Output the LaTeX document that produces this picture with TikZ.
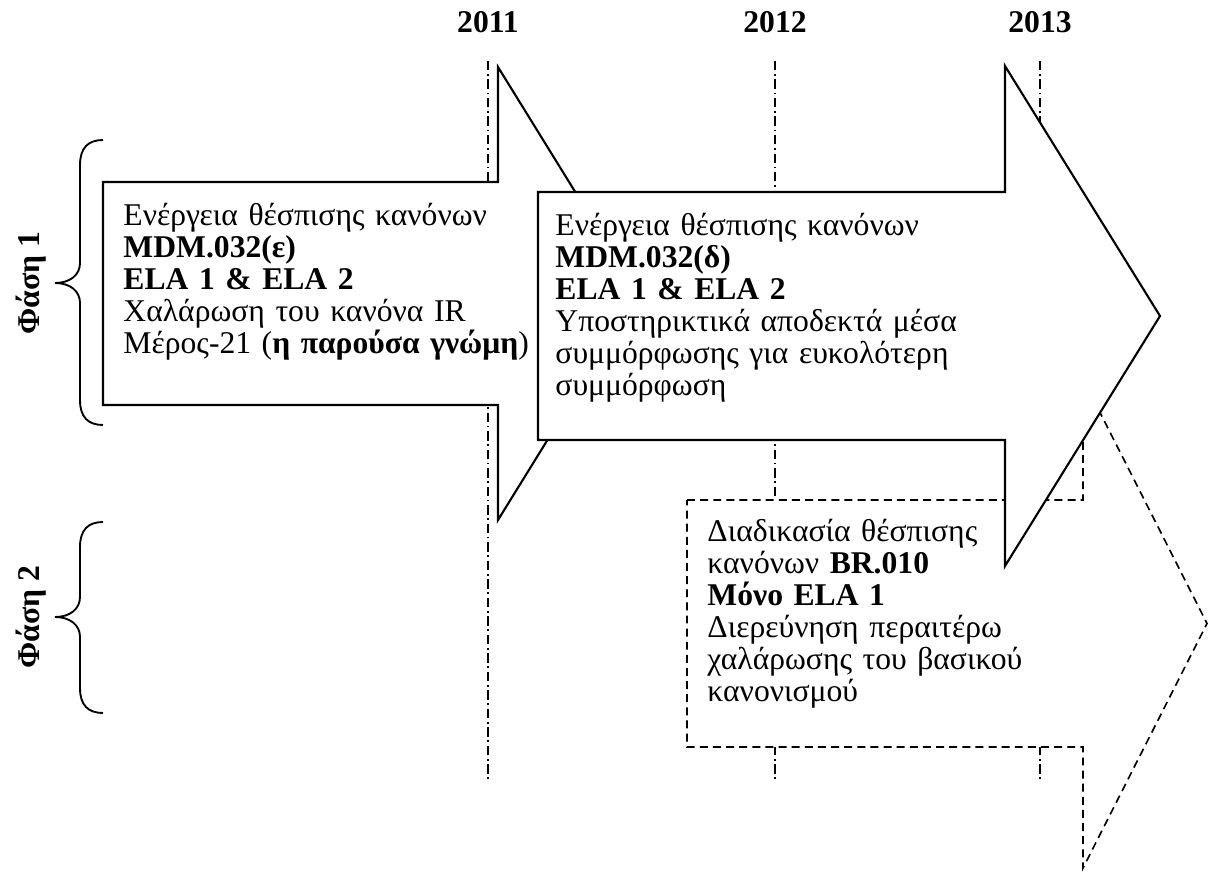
\documentclass[tikz,border=0pt]{standalone}
\usepackage{fontspec}
\setmainfont{Liberation Serif}
\usepackage{tikz}
\usetikzlibrary{positioning, calc}

\begin{document}
\begin{tikzpicture}[x=0.015cm, y=-0.015cm,
    year/.style={font=\fontsize{13.5}{13.7}\selectfont\bfseries},
    yearline/.style={line width=0.5pt, dash pattern=on 4pt off 1.6pt on 0.7pt off 1.6pt},
    stagearrow/.style={draw, fill=white, line width=0.9pt, line join=miter},
    planarrow/.style={stagearrow, line width=0.7pt, dash pattern=on 3.4pt off 2.2pt},
    stagetext/.style={anchor=north west, align=left, inner sep=0pt, text width=8cm,
                      font=\fontsize{13.5}{13.65}\selectfont,
                      execute at begin node={\setlength{\baselineskip}{13.65pt}}},
    phasebrace/.style={line width=0.8pt},
    phase/.style={font=\fontsize{13.5}{13.7}\selectfont\bfseries, rotate=90}]

  \useasboundingbox (0,0) rectangle (1209,871);

  % Years and their dash-dot time lines
  \foreach \x/\yr in {488/2011, 775/2012, 1040/2013} {
    \node[year] (y\yr) at (\x,22) {\yr};
    \coordinate (t\yr) at (\x,780);
    \draw[yearline] (y\yr.south) ++(0,20) -- (t\yr);
  }

  % Phase 2 rule-making arrow (dashed, lies behind)
  \draw[planarrow] (687,500) -- (1083,500) -- (1083,379) -- (1207,623.5)
    -- (1083,868) -- (1083,747) -- (687,747) -- cycle;

  % First rule-making task
  \draw[stagearrow] (103,182) -- (498,182) -- (498,67) -- (638,293.5)
    -- (498,520) -- (498,405) -- (103,405) -- cycle;

  % Second rule-making task
  \draw[stagearrow] (538,192) -- (1005,192) -- (1005,66) -- (1160,316)
    -- (1005,566) -- (1005,440) -- (538,440) -- cycle;

  % Texts inside the arrows
  \node[stagetext] (mdme) at (123,203)
    {Ενέργεια θέσπισης κανόνων\\
     \textbf{MDM.032(ε)}\\
     \textbf{ELA 1 \& ELA 2}\\
     Χαλάρωση του κανόνα IR\\
     Μέρος-21 (\textbf{η παρούσα γνώμη})};
  \node[stagetext] (mdmd) at (555,213)
    {Ενέργεια θέσπισης κανόνων\\
     \textbf{MDM.032(δ)}\\
     \textbf{ELA 1 \& ELA 2}\\
     Υποστηρικτικά αποδεκτά μέσα\\
     συμμόρφωσης για ευκολότερη\\
     συμμόρφωση};
  \node[stagetext] (br) at (707,519)
    {Διαδικασία θέσπισης\\
     κανόνων \textbf{BR.010}\\
     \textbf{Μόνο ELA 1}\\
     Διερεύνηση περαιτέρω\\
     χαλάρωσης του βασικού\\
     κανονισμού};

  % Phase braces and labels
  \foreach \ya/\ym/\yb/\n in {140/283/425/1, 522/617/713/2} {
    \draw[phasebrace] (103,\ya) .. controls (88,\ya) and (80,\ya+8) .. (80,\ya+25)
      -- (80,\ym-20) .. controls (80,\ym-8) and (70,\ym) .. (55,\ym)
      .. controls (70,\ym) and (80,\ym+8) .. (80,\ym+20)
      -- (80,\yb-25) .. controls (80,\yb-8) and (88,\yb) .. (103,\yb);
    \node[phase] (f\n) at (31,\ym) {Φάση \n};
  }
\end{tikzpicture}
\end{document}
